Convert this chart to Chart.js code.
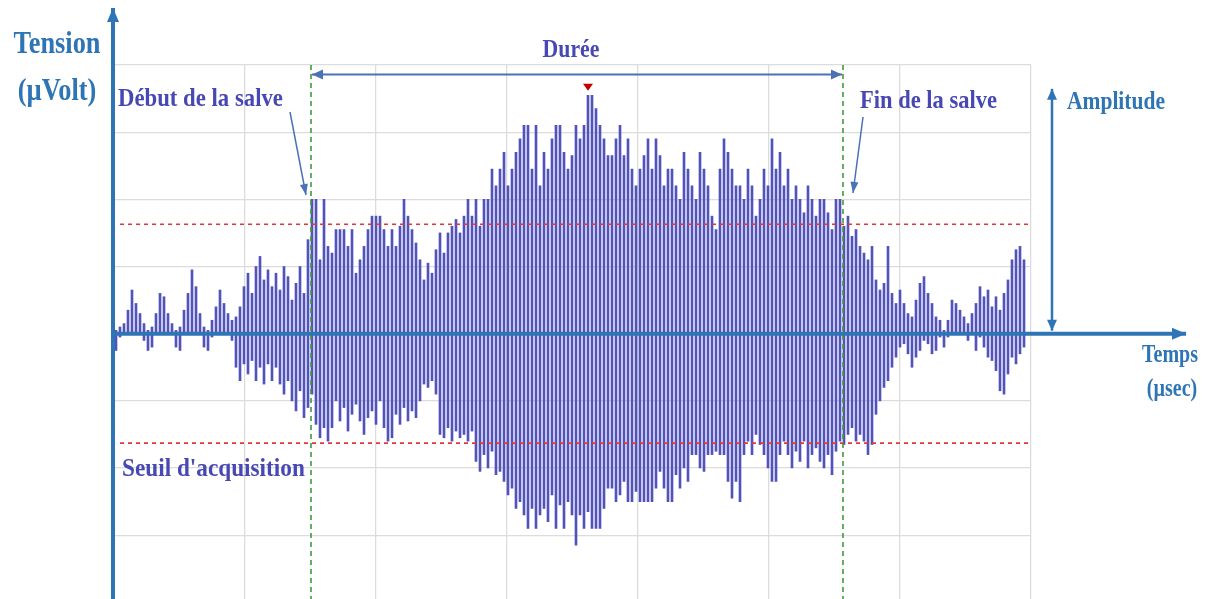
<!doctype html>
<html lang="fr">
  <head>
    <meta charset="utf-8">
    <title>Salve d'émission acoustique</title>
    <style>
      * { margin: 0; padding: 0; }
      body { background: #fff; }
    </style>
  </head>
  <body>
    <canvas id="myChart" width="1207" height="599"></canvas>

    <script src="https://cdn.jsdelivr.net/npm/chart.js"></script>
    <script>
    // setup : crêtes (haut) et creux (bas) de chaque oscillation, en µV (1 carreau = 1)
    const highs = [
      0.05, 0.1, 0.15, 0.35, 0.65, 0.45, 0.3, 0.15, 0.05, 0.1,
      0.3, 0.6, 0.55, 0.3, 0.15, 0.05, 0.1, 0.35, 0.6, 0.95,
      0.7, 0.3, 0.1, 0.05, 0.2, 0.4, 0.65, 0.45, 0.3, 0.2,
      0.25, 0.4, 0.7, 0.9, 0.6, 1.0, 1.15, 0.8, 0.95, 0.7,
      0.9, 0.65, 1.0, 0.85, 0.5, 0.75, 1.0, 0.6, 1.4, 2.0,
      2.0, 1.1, 2.0, 1.3, 1.2, 1.55, 1.55, 1.55, 1.3, 1.55,
      0.9, 1.1, 1.3, 1.55, 1.75, 1.75, 1.75, 1.55, 1.3, 1.55,
      1.3, 1.6, 2.0, 1.75, 1.55, 1.35, 1.1, 0.8, 1.05, 0.9,
      1.25, 1.5, 1.2, 1.5, 1.6, 1.7, 1.5, 1.75, 2.0, 1.75,
      2.0, 1.6, 2.0, 2.0, 2.45, 2.2, 2.45, 2.7, 2.2, 2.45,
      2.7, 2.9, 3.1, 3.1, 2.45, 3.1, 2.2, 2.7, 2.45, 2.9,
      3.1, 3.1, 2.7, 2.45, 2.65, 3.1, 2.9, 3.1, 3.55, 3.55,
      3.35, 3.1, 2.9, 2.65, 2.65, 2.9, 3.1, 2.65, 2.9, 2.45,
      2.2, 2.45, 2.65, 2.9, 2.45, 2.9, 2.65, 2.2, 2.45, 2.45,
      2.2, 2.0, 2.7, 2.45, 2.2, 2.0, 2.7, 2.45, 2.2, 1.75,
      1.55, 2.45, 2.9, 2.7, 2.45, 2.2, 2.2, 2.0, 2.45, 2.2,
      1.75, 2.0, 2.45, 2.2, 2.9, 2.45, 2.7, 2.2, 2.45, 2.0,
      2.2, 2.0, 1.8, 2.2, 2.0, 1.75, 2.0, 2.0, 1.8, 1.55,
      2.0, 2.0, 1.6, 1.75, 1.45, 1.55, 1.3, 1.2, 1.1, 1.3,
      0.8, 0.65, 0.75, 1.3, 0.6, 0.45, 0.65, 0.45, 0.3, 0.25,
      0.5, 0.75, 0.85, 0.6, 0.45, 0.25, 0.2, 0.05, 0.2, 0.5,
      0.45, 0.35, 0.25, 0.15, 0.3, 0.45, 0.7, 0.55, 0.65, 0.4,
      0.55, 0.35, 0.6, 0.8, 1.1, 1.25, 1.3, 1.1
    ];
    const lows = [
      -0.25, -0.05, 0, 0, 0, 0, 0, -0.1, -0.25, -0.2,
      0, 0, 0, 0, 0, -0.2, -0.25, 0, 0, 0,
      0, 0, -0.2, -0.25, -0.05, 0, 0, 0, 0, -0.1,
      -0.5, -0.7, -0.45, -0.6, -0.4, -0.7, -0.5, -0.75, -0.45, -0.7,
      -0.5, -0.75, -0.9, -0.7, -1.0, -1.15, -0.85, -1.25, -1.1, -0.9,
      -1.35, -1.55, -1.4, -1.6, -1.4, -1.0, -1.3, -1.1, -1.45, -1.2,
      -1.05, -1.3, -1.5, -1.25, -1.15, -1.35, -1.0, -1.4, -1.6, -1.55,
      -1.2, -1.35, -1.1, -1.3, -1.15, -1.25, -1.0, -0.75, -0.8, -0.7,
      -0.9, -1.5, -1.55, -1.4, -1.6, -1.45, -1.55, -1.5, -1.6, -1.45,
      -1.9, -2.05, -1.8, -2.0, -1.75, -2.1, -2.05, -2.2, -2.4, -2.3,
      -2.6, -2.5, -2.7, -2.9, -2.6, -2.9, -2.7, -2.6, -2.8, -2.4,
      -2.9, -2.55, -2.9, -2.5, -2.7, -3.15, -2.7, -2.9, -2.65, -2.9,
      -2.9, -2.9, -2.6, -2.3, -2.3, -2.5, -2.4, -2.2, -2.5, -2.5,
      -2.35, -2.5, -2.5, -2.5, -2.5, -2.3, -2.05, -2.3, -2.5, -2.5,
      -2.1, -2.3, -2.0, -2.2, -1.8, -1.8, -2.0, -2.05, -1.8, -1.8,
      -1.75, -1.8, -1.8, -2.2, -2.45, -2.2, -2.5, -1.8, -1.6, -1.8,
      -1.5, -1.65, -1.8, -2.0, -2.2, -2.2, -1.8, -1.6, -1.8, -2.0,
      -1.75, -1.9, -1.6, -2.0, -1.8, -1.7, -1.9, -2.0, -1.8, -2.1,
      -1.75, -1.6, -1.65, -1.5, -1.4, -1.6, -1.5, -1.6, -1.8, -1.65,
      -1.2, -1.0, -0.8, -0.7, -0.5, -0.35, -0.2, -0.15, -0.3, -0.5,
      -0.35, -0.25, -0.1, -0.15, -0.3, -0.25, -0.05, -0.2, -0.05, 0,
      0, 0, 0, -0.1, 0, -0.25, -0.05, -0.2, -0.35, -0.4,
      -0.55, -0.85, -0.9, -0.6, -0.35, -0.45, -0.3, -0.2
    ];

    const seuil = 1.63;          // seuil d'acquisition (±)
    const debutSalve = 49.25;    // indice d'échantillon
    const finSalve = 182.25;
    const picIndex = 118.5;
    const picValue = 3.66;
    const amplitudeX = 234.5;
    const xMax = 229.25;
    const gridStep = 32.75;
    const yTicks = [-3, -2, -1, 0, 1, 2, 3, 4];

    const BLUE = '#2e75b6';
    const PURPLE = '#4848b4';
    const STEEL = '#4a72b4';

    function txt(ctx, s, x, y, size, color, align, sx) {
      ctx.save();
      ctx.font = 'bold ' + size + 'px "Liberation Serif"';
      ctx.fillStyle = color;
      ctx.textAlign = align;
      ctx.textBaseline = 'alphabetic';
      ctx.translate(x, y);
      ctx.scale(sx, 1);
      ctx.fillText(s, 0, 0);
      ctx.restore();
    }

    function head(ctx, x1, y1, x2, y2, len, w, color) {
      const a = Math.atan2(y2 - y1, x2 - x1);
      ctx.save();
      ctx.fillStyle = color;
      ctx.translate(x2, y2);
      ctx.rotate(a);
      ctx.beginPath();
      ctx.moveTo(0, 0);
      ctx.lineTo(-len, -w / 2);
      ctx.lineTo(-len, w / 2);
      ctx.closePath();
      ctx.fill();
      ctx.restore();
    }

    function arrow(ctx, x1, y1, x2, y2, lw, color, both, len, w) {
      ctx.save();
      ctx.strokeStyle = color;
      ctx.lineWidth = lw;
      ctx.beginPath();
      ctx.moveTo(x1, y1);
      ctx.lineTo(x2, y2);
      ctx.stroke();
      ctx.restore();
      head(ctx, x1, y1, x2, y2, len, w, color);
      if (both) head(ctx, x2, y2, x1, y1, len, w, color);
    }

    const annotations = {
      id: 'annotations',
      afterDatasetsDraw(chart) {
        const {ctx, chartArea: {top, bottom, left, right}, scales: {x, y}} = chart;

        // seuils d'acquisition
        ctx.save();
        ctx.strokeStyle = '#e8353a';
        ctx.lineWidth = 1.6;
        ctx.setLineDash([4, 4]);
        [seuil, -seuil].forEach(v => {
          ctx.beginPath();
          ctx.moveTo(left + 6, y.getPixelForValue(v));
          ctx.lineTo(right, y.getPixelForValue(v));
          ctx.stroke();
        });
        // début / fin de salve
        ctx.strokeStyle = '#3f9a3f';
        ctx.setLineDash([5, 4]);
        [debutSalve, finSalve].forEach(v => {
          ctx.beginPath();
          ctx.moveTo(x.getPixelForValue(v), top);
          ctx.lineTo(x.getPixelForValue(v), bottom);
          ctx.stroke();
        });
        ctx.restore();

        // axes
        const x0 = left - 1, y0 = y.getPixelForValue(0);
        arrow(ctx, x0, bottom + 5, x0, 8, 4, BLUE, false, 14, 12);
        arrow(ctx, x0, y0, 1186, y0, 4, BLUE, false, 14, 12);

        // durée
        const yd = y.getPixelForValue(3.86);
        arrow(ctx, x.getPixelForValue(debutSalve) + 1, yd, x.getPixelForValue(finSalve) - 1, yd, 2, STEEL, true, 11, 10);
        txt(ctx, 'Durée', (x.getPixelForValue(debutSalve) + x.getPixelForValue(finSalve)) / 2 - 6, 57, 25, PURPLE, 'center', 0.87);

        // pic
        const px = x.getPixelForValue(picIndex), py = y.getPixelForValue(picValue);
        ctx.save();
        ctx.fillStyle = '#c00000';
        ctx.beginPath();
        ctx.moveTo(px - 5, py - 4);
        ctx.lineTo(px + 5, py - 4);
        ctx.lineTo(px, py + 3);
        ctx.closePath();
        ctx.fill();
        ctx.restore();

        // amplitude
        const ax = x.getPixelForValue(amplitudeX);
        arrow(ctx, ax, y.getPixelForValue(picValue) + 1, ax, y0 - 3, 2.5, BLUE, true, 11, 10);
        txt(ctx, 'Amplitude', 1067, 109, 25, BLUE, 'left', 0.86);

        // flèches de légende
        arrow(ctx, 290, 112, 306, 195, 1.5, STEEL, false, 11, 8);
        arrow(ctx, 863, 117, 853, 193, 1.5, STEEL, false, 11, 8);

        txt(ctx, 'Tension', 57, 53, 31, BLUE, 'center', 0.85);
        txt(ctx, '(µVolt)', 57, 100, 31, BLUE, 'center', 0.85);
        txt(ctx, 'Début de la salve', 118, 106, 25, PURPLE, 'left', 0.91);
        txt(ctx, 'Fin de la salve', 860, 108, 25, PURPLE, 'left', 0.9);
        txt(ctx, "Seuil d'acquisition", 122, 476, 25, PURPLE, 'left', 0.93);
        txt(ctx, 'Temps', 1170, 362, 25, BLUE, 'center', 0.8);
        txt(ctx, '(µsec)', 1172, 396, 25, BLUE, 'center', 0.8);
      }
    };

    const data = {
      datasets: [{
        label: 'Signal',
        data: highs.map((h, i) => ({x: i + 0.5, y: [lows[i], h]})),
        backgroundColor: '#5252bb',
        barThickness: 2,
        borderWidth: 0
      }]
    };

    // config
    const config = {
      type: 'bar',
      data,
      options: {
        responsive: false,
        animation: false,
        layout: {padding: {left: 114, right: 176, top: 65, bottom: 0}},
        plugins: {legend: {display: false}, tooltip: {enabled: false}},
        scales: {
          x: {
            type: 'linear',
            min: 0,
            max: xMax,
            offset: false,
            afterBuildTicks(axis) {
              axis.ticks = [0, 1, 2, 3, 4, 5, 6, 7].map(k => ({value: k * gridStep}));
            },
            ticks: {display: false},
            border: {display: false},
            grid: {color: '#dcdcdc', lineWidth: 1.3, drawTicks: false, offset: false}
          },
          y: {
            min: -3.95,
            max: 4,
            afterBuildTicks(axis) {
              axis.ticks = yTicks.map(v => ({value: v}));
            },
            ticks: {display: false},
            border: {display: false},
            grid: {color: '#dcdcdc', lineWidth: 1.3, drawTicks: false}
          }
        }
      },
      plugins: [annotations]
    };

    // render init block
    const myChart = new Chart(document.getElementById('myChart'), config);
    </script>
  </body>
</html>
